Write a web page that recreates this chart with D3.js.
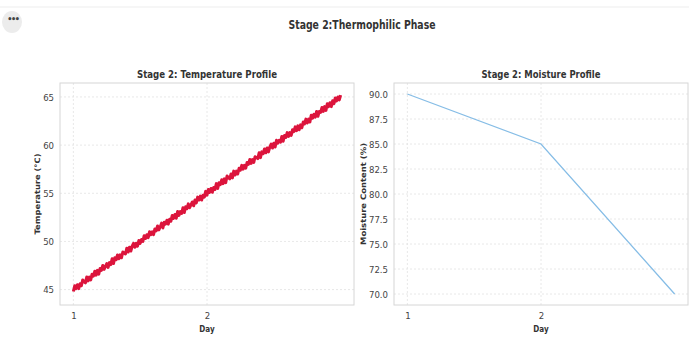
<!DOCTYPE html>
<html>
<head>
<meta charset="utf-8">
<script src="https://cdn.jsdelivr.net/npm/d3@7"></script>
<style>
  html, body { margin: 0; padding: 0; background: #fff; }
  svg { display: block; }
  text { font-family: "DejaVu Sans Condensed", "DejaVu Sans", sans-serif; }
  text.ylab { font-family: "DejaVu Sans", sans-serif; }
</style>
</head>
<body>
<svg id="chart" width="689" height="338"></svg>
<script>
// ---- data ----
const mainTitle = "Stage 2:Thermophilic Phase";
const tempTitle = "Stage 2: Temperature Profile";
const moistTitle = "Stage 2: Moisture Profile";
const xLabel = "Day";
const tempYLabel = "Temperature (°C)";
const moistYLabel = "Moisture Content (%)";

const dayTicks = [1, 2];
const tempTicks = [45, 50, 55, 60, 65];
const moistTicks = [70.0, 72.5, 75.0, 77.5, 80.0, 82.5, 85.0, 87.5, 90.0];

// temperature readings, evenly spaced from day 1 to day 3
const temperature = [
  44.8,45.4,45.1,45.5,45.1,45.6,45.4,46.0,45.8,45.7,
  46.3,45.9,46.3,46.0,46.6,46.4,46.9,46.5,47.0,46.6,
  47.2,47.0,47.5,47.1,47.4,47.7,47.3,47.8,47.6,48.2,
  47.7,48.3,48.1,48.6,48.2,48.6,48.3,48.9,48.8,48.7,
  49.3,48.9,49.4,49.0,49.5,49.8,49.4,49.8,49.5,50.1,
  49.8,50.2,50.0,50.6,50.3,50.7,50.4,51.0,50.7,51.0,
  50.7,51.3,51.1,51.6,51.2,51.5,51.9,51.4,52.0,51.8,
  52.2,51.8,52.3,52.1,52.7,52.4,52.8,52.4,53.1,52.7,
  53.1,52.9,53.5,53.0,53.6,53.4,53.9,53.5,53.8,54.1,
  53.7,54.3,54.0,54.6,54.3,54.7,54.3,54.8,54.6,55.2,
  54.8,55.4,55.1,55.5,55.1,55.6,55.4,56.0,55.5,56.1,
  55.9,56.4,56.0,56.5,56.1,56.8,56.6,56.5,57.0,56.6,
  57.3,56.9,57.3,57.0,57.6,57.4,57.9,57.5,57.9,57.6,
  58.2,58.0,58.5,58.1,58.5,58.2,58.8,58.7,58.6,59.2,
  58.7,59.3,59.1,59.6,59.2,59.7,59.3,59.8,60.1,59.7,
  60.2,59.8,60.5,60.2,60.5,60.3,60.9,60.4,61.0,60.8,
  61.3,60.9,61.3,61.0,61.6,61.4,61.9,61.5,62.0,61.6,
  62.1,61.8,62.4,62.2,62.7,62.3,62.7,62.4,63.1,62.8,
  63.2,62.9,63.5,63.0,63.5,63.4,63.9,63.5,64.0,63.6,
  64.3,64.0,64.4,64.0,64.6,64.3,64.9,64.6,65.0,64.7,
  65.2
];
const tempStartDay = 1;
const tempEndDay = 3;

const moistDays = [1, 2, 3];
const moisture = [90, 85, 70];

// ---- drawing ----
const svg = d3.select("#chart");

// top toolbar line and menu button
svg.append("line").attr("x1", 0).attr("x2", 689).attr("y1", 7).attr("y2", 7)
  .attr("stroke", "#ededed").attr("stroke-width", 1);
svg.append("ellipse").attr("cx", 12).attr("cy", 22).attr("rx", 10).attr("ry", 11)
  .attr("fill", "#ececec");
svg.append("text").attr("x", 12).attr("y", 22).attr("text-anchor", "middle")
  .attr("font-size", 9).attr("font-weight", "bold").attr("fill", "#444")
  .text("•••").attr("letter-spacing", -1.5).attr("dx", 0.8);

svg.append("text").attr("x", 362).attr("y", 29).attr("text-anchor", "middle")
  .attr("font-size", 11.5).attr("font-weight", "bold").attr("fill", "#333")
  .attr("textLength", 147).attr("lengthAdjust", "spacingAndGlyphs")
  .text(mainTitle);

function panel(opts) {
  const { left, right, top, bottom, xDomain, yDomain, yTicks, yFmt, title, titleLen, ylab, ylabX, ylabLen } = opts;
  const x = d3.scaleLinear().domain(xDomain).range([left, right]);
  const y = d3.scaleLinear().domain(yDomain).range([bottom, top]);
  const g = svg.append("g");

  // grid
  g.append("g").selectAll("line.gy").data(yTicks).join("line")
    .attr("x1", left).attr("x2", right)
    .attr("y1", d => y(d)).attr("y2", d => y(d))
    .attr("stroke", "#e2e2e2").attr("stroke-width", 0.8).attr("stroke-dasharray", "2,2");
  g.append("g").selectAll("line.gx").data(dayTicks).join("line")
    .attr("x1", d => x(d)).attr("x2", d => x(d))
    .attr("y1", top).attr("y2", bottom)
    .attr("stroke", "#e2e2e2").attr("stroke-width", 0.8).attr("stroke-dasharray", "2,2");

  // frame
  g.append("rect").attr("x", left).attr("y", top)
    .attr("width", right - left).attr("height", bottom - top)
    .attr("fill", "none").attr("stroke", "#d6d6d6").attr("stroke-width", 1);

  // axes
  const yAxis = d3.axisLeft(y).tickValues(yTicks).tickSize(0).tickPadding(6).tickFormat(yFmt);
  const ya = g.append("g").attr("transform", `translate(${left},0)`).call(yAxis);
  ya.select(".domain").remove();
  ya.selectAll("text").attr("font-size", 9.5).attr("fill", "#444");

  const xAxis = d3.axisBottom(x).tickValues(dayTicks).tickSize(0).tickPadding(7).tickFormat(d3.format("d"));
  const xa = g.append("g").attr("transform", `translate(0,${bottom})`).call(xAxis);
  xa.select(".domain").remove();
  xa.selectAll("text").attr("font-size", 9.5).attr("fill", "#444");

  // titles / labels
  g.append("text").attr("x", (left + right) / 2).attr("y", top - 5)
    .attr("text-anchor", "middle").attr("font-size", 10).attr("font-weight", "bold")
    .attr("fill", "#333")
    .attr("textLength", titleLen).attr("lengthAdjust", "spacingAndGlyphs")
    .text(title);
  g.append("text").attr("x", (left + right) / 2).attr("y", bottom + 27)
    .attr("text-anchor", "middle").attr("font-size", 8).attr("font-weight", "bold")
    .attr("fill", "#333").text(xLabel);
  g.append("text").attr("class", "ylab")
    .attr("transform", `translate(${ylabX},${(top + bottom) / 2}) rotate(-90)`)
    .attr("text-anchor", "middle").attr("font-size", 7.5).attr("font-weight", "bold")
    .attr("textLength", ylabLen).attr("lengthAdjust", "spacingAndGlyphs")
    .attr("fill", "#333").text(ylab);

  return { x, y, g };
}

// Left panel: temperature
const p1 = panel({
  left: 60, right: 354, top: 83, bottom: 305,
  xDomain: [0.9, 3.1], yDomain: [43.4, 66.45],
  yTicks: tempTicks, yFmt: d3.format("d"),
  title: tempTitle, titleLen: 140, ylab: tempYLabel, ylabX: 40, ylabLen: 81
});
const tStep = (tempEndDay - tempStartDay) / (temperature.length - 1);
p1.g.append("path")
  .datum(temperature)
  .attr("fill", "none").attr("stroke", "#dc143c").attr("stroke-width", 3)
  .attr("stroke-linejoin", "round")
  .attr("d", d3.line().x((d, i) => p1.x(tempStartDay + i * tStep)).y(d => p1.y(d)));

// Right panel: moisture
const p2 = panel({
  left: 394, right: 688, top: 83, bottom: 305,
  xDomain: [0.9, 3.1], yDomain: [68.9, 91.1],
  yTicks: moistTicks, yFmt: d3.format(".1f"),
  title: moistTitle, titleLen: 119, ylab: moistYLabel, ylabX: 366, ylabLen: 102
});
p2.g.append("path")
  .datum(moisture)
  .attr("fill", "none").attr("stroke", "#86bde6").attr("stroke-width", 1.3)
  .attr("d", d3.line().x((d, i) => p2.x(moistDays[i])).y(d => p2.y(d)));
</script>
</body>
</html>
